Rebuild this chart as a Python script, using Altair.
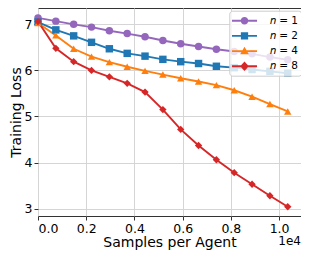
import altair as alt
import pandas as pd

# ---- data ----
samples = [0, 740, 1480, 2220, 2960, 3700, 4440, 5180, 5920, 6660, 7400, 8140, 8880, 9620, 10360]
series_names = ["𝑛 = 1", "𝑛 = 2", "𝑛 = 4", "𝑛 = 8"]
loss_n1 = [7.14, 7.07, 7.00, 6.94, 6.86, 6.80, 6.73, 6.65, 6.58, 6.52, 6.46, 6.41, 6.36, 6.29, 6.23]
loss_n2 = [7.05, 6.88, 6.75, 6.61, 6.47, 6.37, 6.31, 6.24, 6.19, 6.15, 6.09, 6.06, 6.02, 5.98, 5.94]
loss_n4 = [7.03, 6.76, 6.47, 6.30, 6.18, 6.08, 5.99, 5.91, 5.83, 5.76, 5.68, 5.57, 5.43, 5.27, 5.11]
loss_n8 = [7.06, 6.48, 6.19, 6.00, 5.86, 5.72, 5.53, 5.15, 4.72, 4.37, 4.06, 3.78, 3.53, 3.28, 3.04]
x_ticks = [0, 2000, 4000, 6000, 8000, 10000]
y_ticks = [3, 4, 5, 6, 7]
offset_text = ["1e4"]

colors = ["#9467bd", "#1f77b4", "#ff7f0e", "#d62728"]
plot_shapes = ["circle", "square", "triangle-up", "diamond"]
_line = "M-1.786,-0.136H1.786V0.136H-1.786Z "
legend_shapes = [
    _line + "M0.54,0A0.54,0.54,0,1,1,-0.54,0A0.54,0.54,0,1,1,0.54,0Z",
    _line + "M-0.52,-0.52H0.52V0.52H-0.52Z",
    _line + "M0,-0.62L0.62,0.46L-0.62,0.46Z",
    _line + "M0,-0.68L0.62,0L0,0.68L-0.62,0Z",
]

rows = []
for name, vals in zip(series_names, [loss_n1, loss_n2, loss_n4, loss_n8]):
    for i, (s, v) in enumerate(zip(samples, vals)):
        rows.append({"series": name, "step": i, "samples": s, "loss": v})
df = pd.DataFrame(rows)

FONT = "DejaVu Sans"

x_enc = alt.X(
    "samples:Q",
    scale=alt.Scale(domain=[0, 10910], nice=False, zero=False),
    axis=alt.Axis(
        values=x_ticks,
        labelExpr="format(datum.value / 10000, '.1f')",
        title="Samples per Agent",
        titleY=30.7,
        titleBaseline="alphabetic",
    ),
)
y_enc = alt.Y(
    "loss:Q",
    scale=alt.Scale(domain=[2.84, 7.355], nice=False, zero=False),
    axis=alt.Axis(
        values=y_ticks,
        title="Training Loss",
        titleX=-18,
        titleBaseline="alphabetic",
    ),
)

color_plain = alt.Color(
    "series:N", scale=alt.Scale(domain=series_names, range=colors), legend=None
)

base = alt.Chart(df)

lines = base.mark_line(strokeWidth=1.9).encode(
    x=x_enc, y=y_enc, color=color_plain, detail="series:N", order="step:Q"
)

points = base.mark_point(filled=True, opacity=1).encode(
    x=x_enc,
    y=y_enc,
    color=color_plain,
    shape=alt.Shape(
        "series:N", scale=alt.Scale(domain=series_names, range=plot_shapes), legend=None
    ),
    size=alt.Size(
        "series:N",
        scale=alt.Scale(domain=series_names, range=[56, 54, 60, 62]),
        legend=None,
    ),
)

legend_layer = (
    base.transform_filter(alt.datum.step < 0)
    .mark_point(filled=True, opacity=1, size=196)
    .encode(
        x=x_enc,
        y=y_enc,
        color=alt.Color(
            "series:N",
            scale=alt.Scale(domain=series_names, range=colors),
            legend=alt.Legend(
                title=None,
                orient="none",
                legendX=191.3,
                legendY=2.7,
                padding=3,
                rowPadding=2.2,
                symbolOffset=5.2,
                labelOffset=18.4,
                symbolSize=196,
                symbolStrokeWidth=0,
                symbolOpacity=1,
                labelFont=FONT,
                labelFontSize=10.5,
                labelColor="#000000",
                fillColor="rgba(255,255,255,0.8)",
                strokeColor="#cccccc",
                cornerRadius=3,
            ),
        ),
        shape=alt.Shape(
            "series:N", scale=alt.Scale(domain=series_names, range=legend_shapes)
        ),
    )
)

offset_label = (
    alt.Chart(pd.DataFrame({"label": offset_text}))
    .mark_text(align="right", baseline="alphabetic", font=FONT, fontSize=12, color="#000000")
    .encode(x=alt.value(263), y=alt.value(237), text="label:N")
)

chart = (
    alt.layer(lines, points, legend_layer, offset_label)
    .resolve_scale(color="independent", shape="independent", size="independent")
    .properties(
        width=263,
        height=208,
        autosize=alt.AutoSizeParams(type="none"),
        padding={"left": 30, "top": 0, "right": 0, "bottom": 34},
    )
    .configure(font=FONT)
    .configure_view(stroke="#333333", strokeWidth=1)
    .configure_axis(
        domain=False,
        grid=True,
        gridColor="#d5d5d5",
        gridWidth=1,
        tickSize=4,
        tickColor="#333333",
        tickWidth=1,
        labelFont=FONT,
        labelFontSize=12.5,
        labelColor="#000000",
        labelPadding=2,
        titleFont=FONT,
        titleFontSize=14,
        titleFontWeight="normal",
        titleColor="#000000",
    )
)

chart.save("out.html", embed_options={"renderer": "svg", "actions": False})
